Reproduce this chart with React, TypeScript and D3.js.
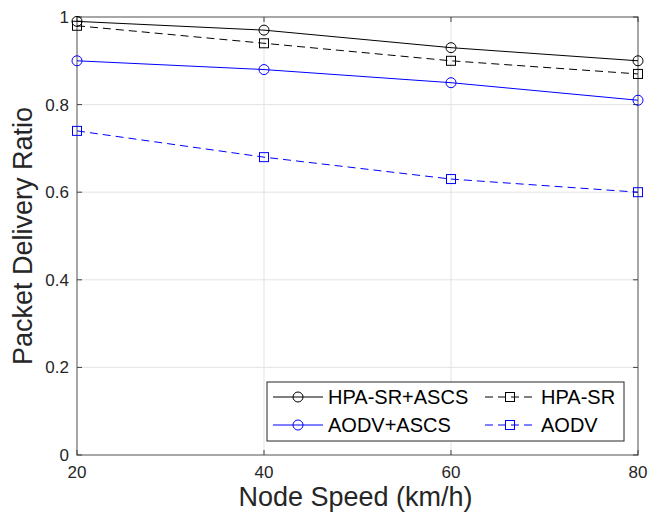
import React from "react";
import * as d3 from "d3";

const speeds = [20, 40, 60, 80];
const hpaAscs = [0.99, 0.97, 0.93, 0.9];
const hpa = [0.98, 0.94, 0.9, 0.87];
const aodvAscs = [0.9, 0.88, 0.85, 0.81];
const aodv = [0.74, 0.68, 0.63, 0.6];
const xTicks = [20, 40, 60, 80];
const yTicks = [0, 0.2, 0.4, 0.6, 0.8, 1];

const series = [
  { name: "HPA-SR+ASCS", values: hpaAscs, color: "#000000", dash: "", marker: "circle" },
  { name: "HPA-SR", values: hpa, color: "#000000", dash: "8,5", marker: "square" },
  { name: "AODV+ASCS", values: aodvAscs, color: "#0000ff", dash: "", marker: "circle" },
  { name: "AODV", values: aodv, color: "#0000ff", dash: "8,5", marker: "square" },
];

const W = 648, H = 515;
const L = 77, R = 638, T = 17, B = 455;

function Marker({ type, x, y, color }: { type: string; x: number; y: number; color: string }) {
  if (type === "circle") return <circle cx={x} cy={y} r={5} fill="none" stroke={color} strokeWidth={1} />;
  return <rect x={x - 4.5} y={y - 4.5} width={9} height={9} fill="none" stroke={color} strokeWidth={1} />;
}

export default function App() {
  const x = d3.scaleLinear().domain([20, 80]).range([L, R]);
  const y = d3.scaleLinear().domain([0, 1]).range([B, T]);
  const line = d3.line<number>().x((_, i) => x(speeds[i])).y((d) => y(d));
  const font = "Liberation Sans, Arial, Helvetica, sans-serif";
  const legendItems = [
    { s: series[0], lx: 273, tx: 328, ly: 397 },
    { s: series[1], lx: 485, tx: 541, ly: 397 },
    { s: series[2], lx: 273, tx: 328, ly: 425 },
    { s: series[3], lx: 485, tx: 541, ly: 425 },
  ];
  return (
    <svg width={W} height={H} style={{ position: "absolute", left: 0, top: 0, background: "#fff" }} fontFamily={font}>
      <rect x={0} y={0} width={W} height={H} fill="#fff" />
      {xTicks.map((t) => (
        <line key={"gx" + t} x1={x(t)} x2={x(t)} y1={T} y2={B} stroke="#e3e3e3" strokeWidth={1} />
      ))}
      {yTicks.map((t) => (
        <line key={"gy" + t} x1={L} x2={R} y1={y(t)} y2={y(t)} stroke="#e3e3e3" strokeWidth={1} />
      ))}
      <rect x={L} y={T} width={R - L} height={B - T} fill="none" stroke="#808080" strokeWidth={1.3} />
      {xTicks.map((t) => (
        <g key={"tx" + t}>
          <line x1={x(t)} x2={x(t)} y1={B} y2={B - 5} stroke="#404040" />
          <line x1={x(t)} x2={x(t)} y1={T} y2={T + 5} stroke="#404040" />
          <text x={x(t)} y={B + 23} textAnchor="middle" fontSize={17} fill="#262626">{t}</text>
        </g>
      ))}
      {yTicks.map((t) => (
        <g key={"ty" + t}>
          <line x1={L} x2={L + 5} y1={y(t)} y2={y(t)} stroke="#404040" />
          <line x1={R} x2={R - 5} y1={y(t)} y2={y(t)} stroke="#404040" />
          <text x={L - 8} y={y(t) + 6} textAnchor="end" fontSize={17} fill="#262626">{d3.format("~g")(t)}</text>
        </g>
      ))}
      {series.map((s) => (
        <g key={s.name}>
          <path d={line(s.values) || ""} fill="none" stroke={s.color} strokeWidth={1} strokeDasharray={s.dash} />
          {s.values.map((v, i) => (
            <Marker key={i} type={s.marker} x={x(speeds[i])} y={y(v)} color={s.color} />
          ))}
        </g>
      ))}
      <text x={(L + R) / 2 - 2} y={506} textAnchor="middle" fontSize={27} fill="#262626">Node Speed (km/h)</text>
      <text transform={`translate(32,${(T + B) / 2}) rotate(-90)`} textAnchor="middle" fontSize={27} fill="#262626">Packet Delivery Ratio</text>
      <rect x={267} y={382} width={357} height={59} fill="#fff" stroke="#262626" strokeWidth={1} />
      {legendItems.map(({ s, lx, tx, ly }) => (
        <g key={"lg" + s.name}>
          <line x1={lx} x2={lx + 50} y1={ly} y2={ly} stroke={s.color} strokeWidth={1} strokeDasharray={s.dash} />
          <Marker type={s.marker} x={lx + 25} y={ly} color={s.color} />
          <text x={tx} y={ly + 7} fontSize={20} fill="#000">{s.name}</text>
        </g>
      ))}
    </svg>
  );
}
